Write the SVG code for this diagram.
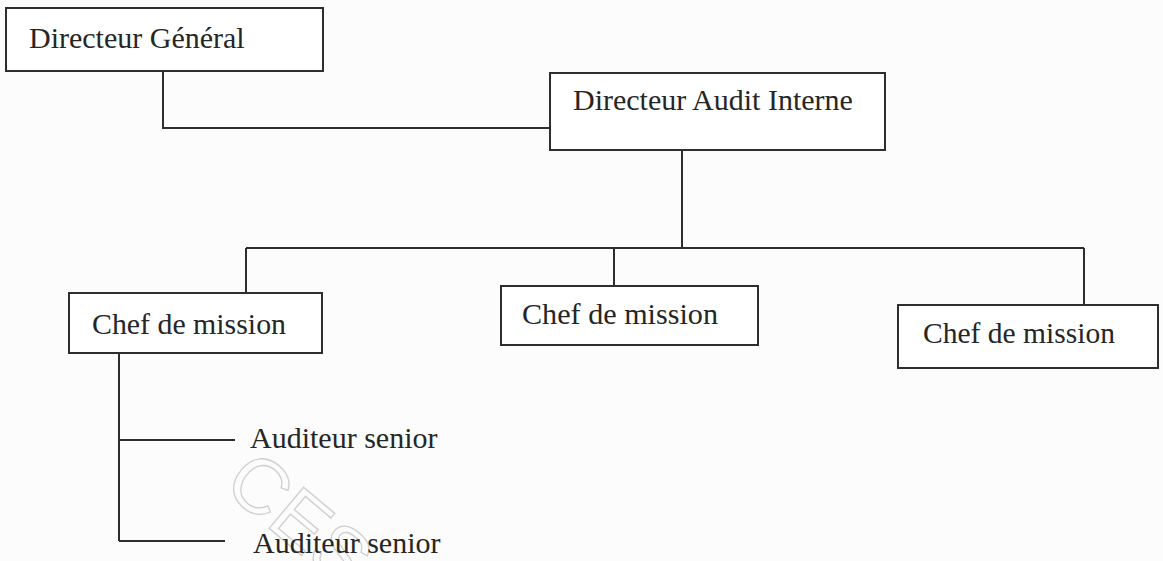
<svg xmlns="http://www.w3.org/2000/svg" width="1163" height="561" viewBox="0 0 1163 561">
  <style>
    .box { fill: #ffffff; stroke: #2e2e2e; stroke-width: 2; }
    .lbl { font-family: "Liberation Serif", "Times New Roman", serif; font-size: 30px; fill: #262626; }
    .wire { fill: none; stroke: #2e2e2e; stroke-width: 2; }
    .mark { font-family: "Liberation Sans", Arial, sans-serif; font-size: 78px; fill: none; stroke: #cfcfcf; stroke-width: 1.3; }
  </style>
  <rect width="1163" height="561" fill="#fcfcfc"/>

  <!-- faint stamp across the lower area -->
  <text class="mark" transform="translate(221,488) rotate(40)">CES</text>

  <g id="connectors">
    <polyline class="wire" points="163,71 163,128 550,128"/>
    <line class="wire" x1="682" y1="150" x2="682" y2="248"/>
    <line class="wire" x1="246" y1="248" x2="1084" y2="248"/>
    <line class="wire" x1="246" y1="248" x2="246" y2="293"/>
    <line class="wire" x1="614" y1="248" x2="614" y2="286"/>
    <line class="wire" x1="1084" y1="248" x2="1084" y2="305"/>
    <line class="wire" x1="119" y1="353" x2="119" y2="541"/>
    <line class="wire" x1="119" y1="440" x2="235" y2="440"/>
    <line class="wire" x1="119" y1="541" x2="225" y2="541"/>
  </g>

  <g id="directeur-general">
    <rect class="box" x="6" y="8" width="317" height="63"/>
    <text class="lbl" x="29" y="48">Directeur Général</text>
  </g>

  <g id="directeur-audit-interne">
    <rect class="box" x="550" y="73" width="335" height="77"/>
    <text class="lbl" x="573" y="110">Directeur Audit Interne</text>
  </g>

  <g id="chef-mission-1">
    <rect class="box" x="69" y="293" width="253" height="60"/>
    <text class="lbl" x="92" y="334" textLength="194" lengthAdjust="spacingAndGlyphs">Chef de mission</text>
  </g>

  <g id="chef-mission-2">
    <rect class="box" x="501" y="286" width="257" height="59"/>
    <text class="lbl" x="522" y="324" textLength="196" lengthAdjust="spacingAndGlyphs">Chef de mission</text>
  </g>

  <g id="chef-mission-3">
    <rect class="box" x="898" y="305" width="260" height="63"/>
    <text class="lbl" x="923" y="343" textLength="192" lengthAdjust="spacingAndGlyphs">Chef de mission</text>
  </g>

  <g id="auditeur-senior-1">
    <text class="lbl" x="250" y="448">Auditeur senior</text>
  </g>

  <g id="auditeur-senior-2">
    <text class="lbl" x="253" y="553">Auditeur senior</text>
  </g>
</svg>
